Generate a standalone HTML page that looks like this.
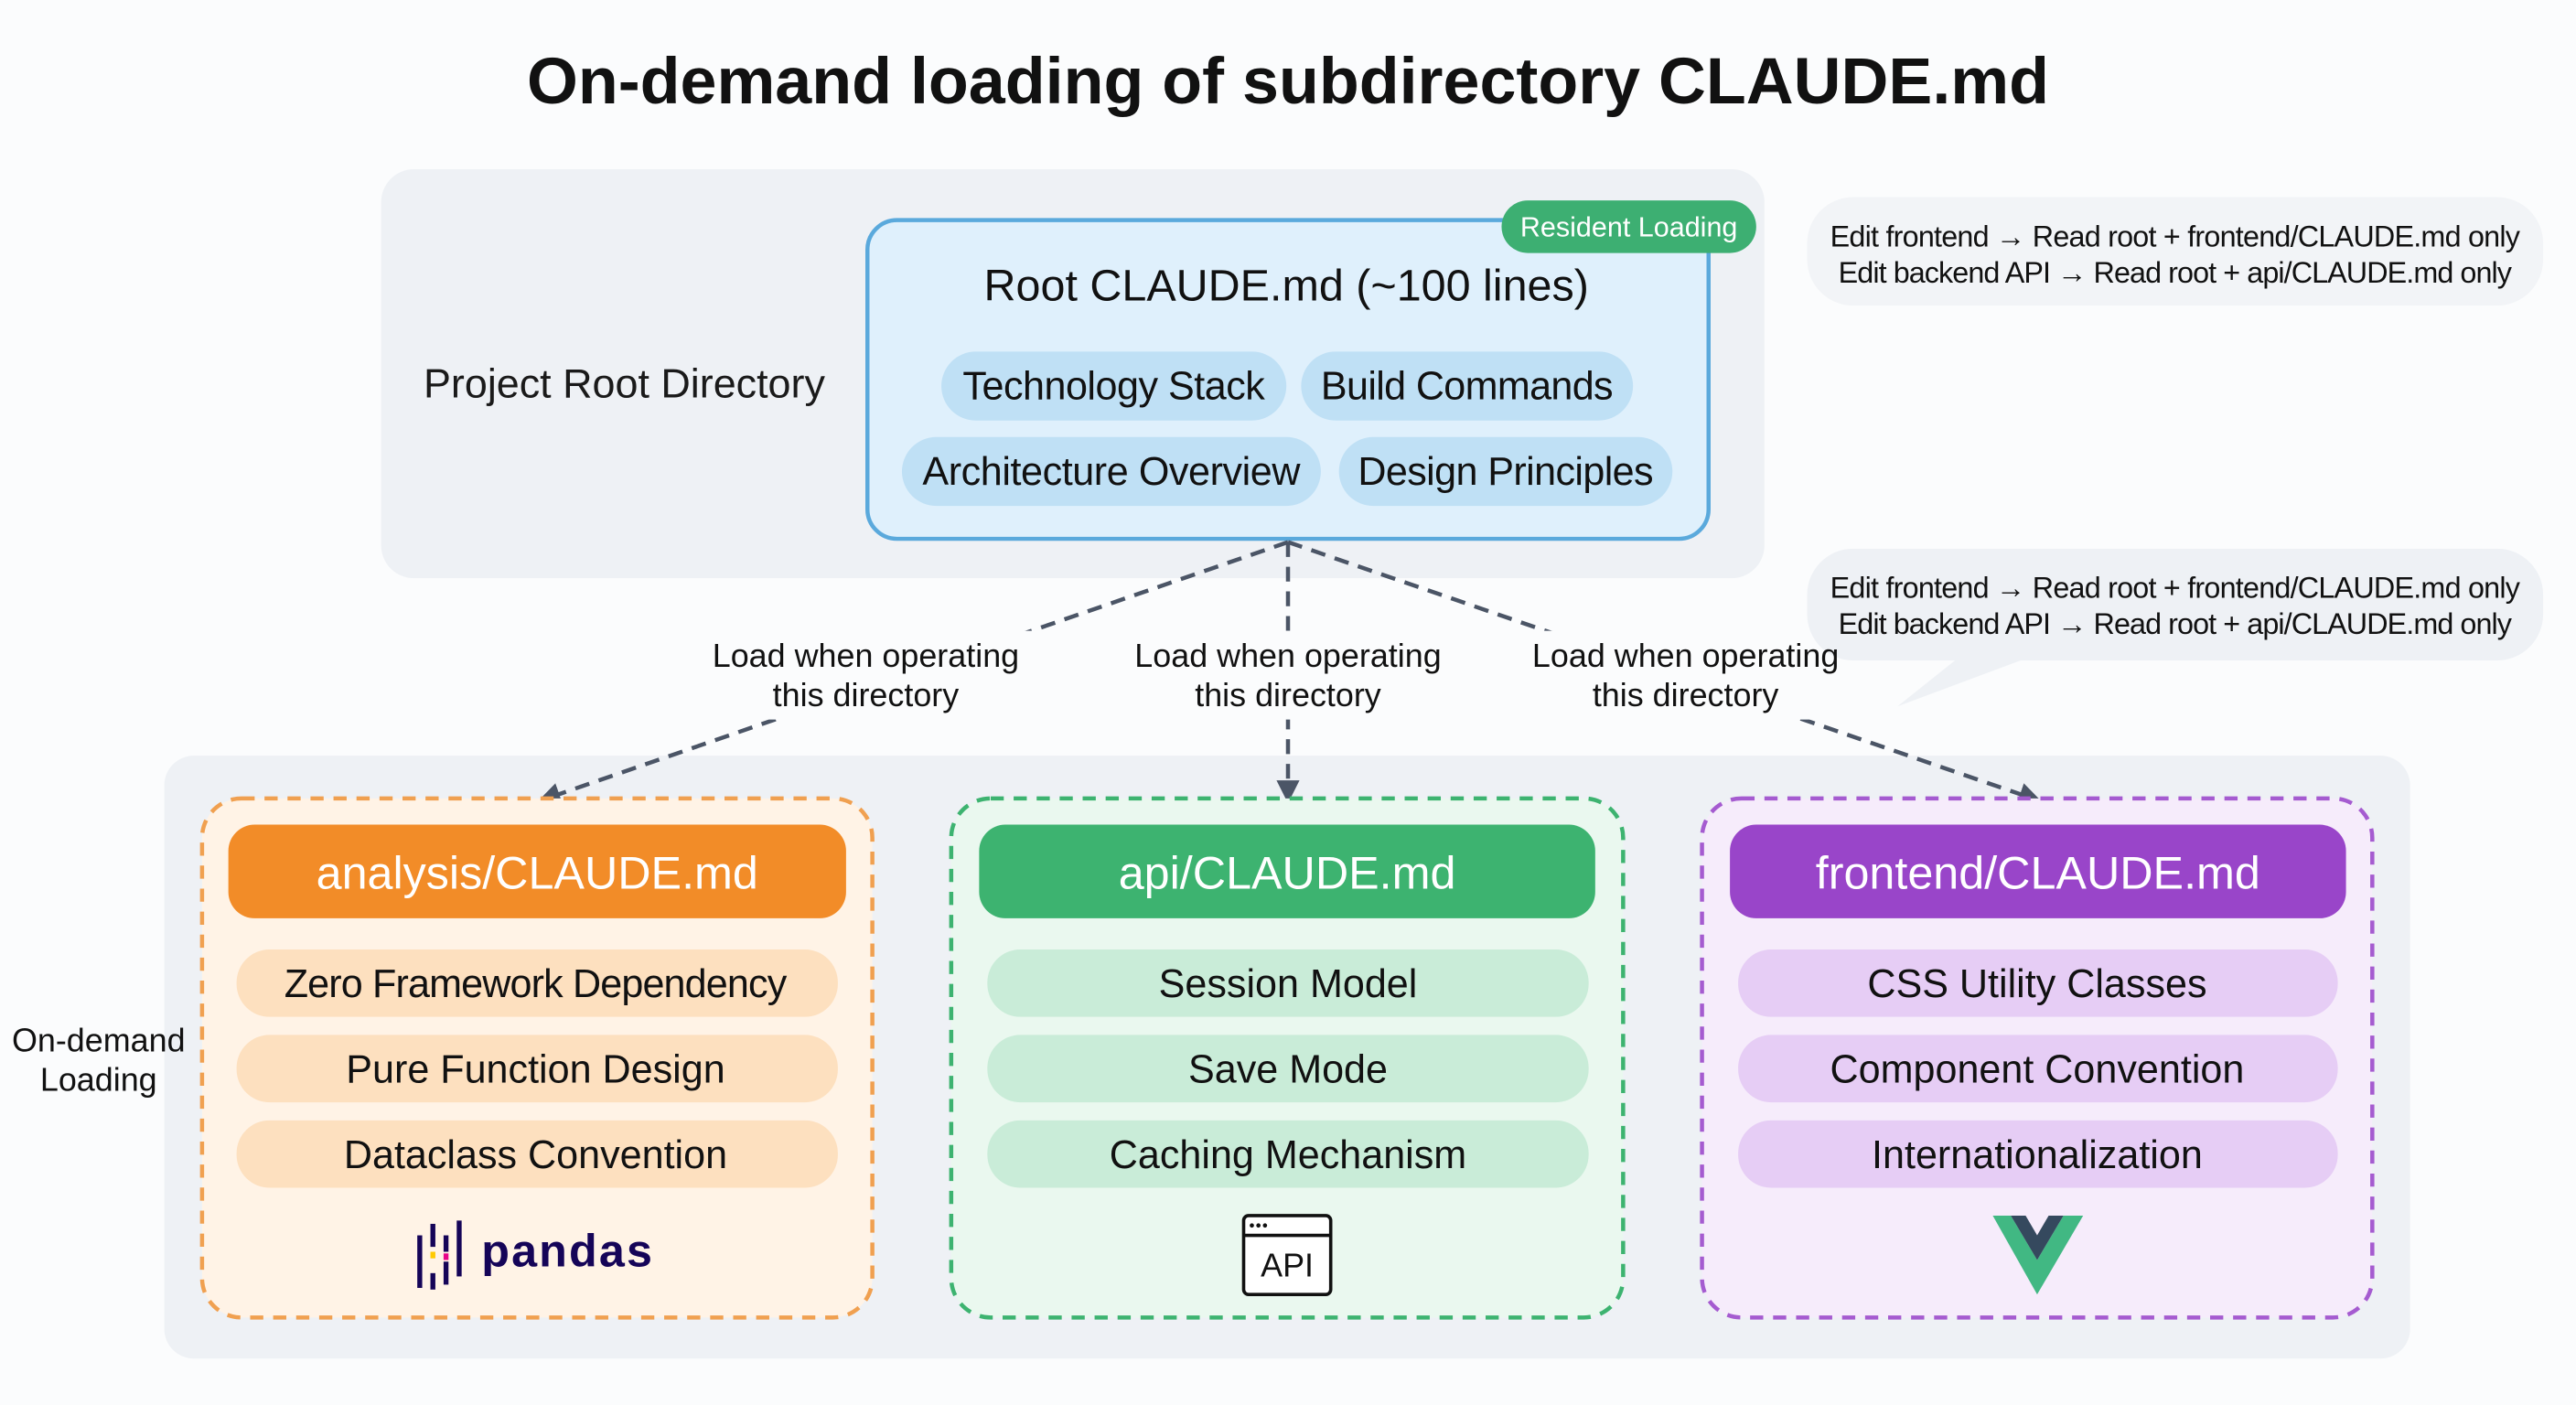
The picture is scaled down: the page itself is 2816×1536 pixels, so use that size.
<!DOCTYPE html>
<html><head><meta charset="utf-8"><style>
html,body{margin:0;padding:0;background:#fbfcfd;}
svg{display:block;}
text{font-family:"Liberation Sans",sans-serif;}
</style></head><body>
<svg width="2816" height="1536" viewBox="0 0 1568 855.27" xmlns="http://www.w3.org/2000/svg">
<defs>
<marker id="ah" markerWidth="14" markerHeight="14" refX="11" refY="7" orient="auto" markerUnits="userSpaceOnUse" viewBox="0 0 14 14">
<path d="M0,0 L14,7 L0,14 z" fill="#4b5566"/></marker>
</defs>
<rect width="1568" height="856" fill="#fbfcfd"/>
<text x="784" y="63" text-anchor="middle" font-size="40" font-weight="bold" fill="#111">On-demand loading of subdirectory CLAUDE.md</text>

<!-- top panel -->
<rect x="232" y="103" width="842" height="249" rx="20" fill="#eef1f5"/>
<text x="380" y="242" text-anchor="middle" font-size="25" fill="#1a1a1a">Project Root Directory</text>
<rect x="528" y="134" width="512" height="194" rx="18" fill="#dff0fc" stroke="#5aa9dc" stroke-width="2.5"/>
<rect x="914" y="122" width="155" height="32" rx="16" fill="#3daf72"/>
<text x="991.5" y="144" text-anchor="middle" font-size="17" fill="#fff">Resident Loading</text>
<text x="783" y="183" text-anchor="middle" font-size="27" fill="#111">Root CLAUDE.md (~100 lines)</text>
<rect x="573" y="214" width="210" height="42" rx="21" fill="#bfe0f5"/>
<text x="678" y="243" text-anchor="middle" font-size="24" fill="#111" textLength="184">Technology Stack</text>
<rect x="792" y="214" width="202" height="42" rx="21" fill="#bfe0f5"/>
<text x="893" y="243" text-anchor="middle" font-size="24" fill="#111" textLength="178">Build Commands</text>
<rect x="549" y="266" width="255" height="42" rx="21" fill="#bfe0f5"/>
<text x="676.5" y="295" text-anchor="middle" font-size="24" fill="#111" textLength="230">Architecture Overview</text>
<rect x="815" y="266" width="203" height="42" rx="21" fill="#bfe0f5"/>
<text x="916.5" y="295" text-anchor="middle" font-size="24" fill="#111" textLength="180">Design Principles</text>

<!-- bottom panel -->
<rect x="100" y="460" width="1367" height="367" rx="18" fill="#eef1f5"/>
<text x="60" y="640" text-anchor="middle" font-size="20" fill="#111">On-demand</text>
<text x="60" y="664" text-anchor="middle" font-size="20" fill="#111">Loading</text>

<!-- arrows -->
<g stroke="#4b5566" stroke-width="2.5" stroke-dasharray="9,6" fill="none">
<line x1="784" y1="330" x2="330" y2="487" marker-end="url(#ah)"/>
<line x1="784" y1="330" x2="784" y2="486" marker-end="url(#ah)"/>
<line x1="784" y1="330" x2="1240" y2="487" marker-end="url(#ah)"/>
</g>
<rect x="425" y="384" width="204" height="54" fill="#fbfcfd"/>
<rect x="682" y="384" width="204" height="54" fill="#fbfcfd"/>
<rect x="924" y="384" width="204" height="54" fill="#fbfcfd"/>

<!-- callouts -->
<rect x="1100" y="120" width="448" height="66" rx="28" fill="#f2f4f7"/>
<text x="1324" y="150" text-anchor="middle" font-size="18" fill="#111" textLength="420">Edit frontend → Read root + frontend/CLAUDE.md only</text>
<text x="1324" y="172" text-anchor="middle" font-size="18" fill="#111" textLength="410">Edit backend API → Read root + api/CLAUDE.md only</text>
<path d="M1128,334 H1520 a28,28 0 0 1 28,28 V374 a28,28 0 0 1 -28,28 H1230 L1155,430 L1190,402 H1128 a28,28 0 0 1 -28,-28 V362 a28,28 0 0 1 28,-28 z" fill="#eef1f5"/>
<text x="1324" y="364" text-anchor="middle" font-size="18" fill="#111" textLength="420">Edit frontend → Read root + frontend/CLAUDE.md only</text>
<text x="1324" y="386" text-anchor="middle" font-size="18" fill="#111" textLength="410">Edit backend API → Read root + api/CLAUDE.md only</text>

<g font-size="20" fill="#111" text-anchor="middle">
<text x="527" y="406">Load when operating</text><text x="527" y="430">this directory</text>
<text x="784" y="406">Load when operating</text><text x="784" y="430">this directory</text>
<text x="1026" y="406">Load when operating</text><text x="1026" y="430">this directory</text>
</g>

<!-- orange -->
<rect x="123" y="486" width="408" height="316" rx="24" fill="#fff3e6" stroke="#f0a050" stroke-width="2.5" stroke-dasharray="8,6"/>
<rect x="139" y="502" width="376" height="57" rx="16" fill="#f28c28"/>
<text x="327" y="541" text-anchor="middle" font-size="28" fill="#fff">analysis/CLAUDE.md</text>
<rect x="144" y="578" width="366" height="41" rx="20" fill="#fde0bf"/>
<rect x="144" y="630" width="366" height="41" rx="20" fill="#fde0bf"/>
<rect x="144" y="682" width="366" height="41" rx="20" fill="#fde0bf"/>
<g font-size="24" fill="#111" text-anchor="middle">
<text x="326" y="607" textLength="306">Zero Framework Dependency</text>
<text x="326" y="659">Pure Function Design</text>
<text x="326" y="711">Dataclass Convention</text>
</g>
<g fill="#150458">
<rect x="254" y="752" width="3" height="32"/><rect x="262" y="745" width="3" height="14"/><rect x="262" y="775" width="3" height="10"/>
<rect x="270" y="752" width="3" height="10"/><rect x="270" y="768" width="3" height="14"/><rect x="278" y="743" width="3" height="34"/>
</g>
<rect x="262" y="762" width="3" height="4" fill="#ffca00"/><rect x="270" y="763" width="3" height="4" fill="#e70488"/>
<text x="293" y="771" font-size="28" font-weight="bold" fill="#150458" textLength="104">pandas</text>

<!-- green -->
<rect x="579" y="486" width="409" height="316" rx="24" fill="#eaf8ef" stroke="#3db370" stroke-width="2.5" stroke-dasharray="8,6"/>
<rect x="596" y="502" width="375" height="57" rx="16" fill="#3db370"/>
<text x="783.5" y="541" text-anchor="middle" font-size="28" fill="#fff">api/CLAUDE.md</text>
<rect x="601" y="578" width="366" height="41" rx="20" fill="#c9ecd8"/>
<rect x="601" y="630" width="366" height="41" rx="20" fill="#c9ecd8"/>
<rect x="601" y="682" width="366" height="41" rx="20" fill="#c9ecd8"/>
<g font-size="24" fill="#111" text-anchor="middle">
<text x="784" y="607">Session Model</text>
<text x="784" y="659">Save Mode</text>
<text x="784" y="711">Caching Mechanism</text>
</g>
<rect x="757" y="740" width="53" height="48" rx="3" fill="#fff" stroke="#111" stroke-width="2"/>
<line x1="757" y1="752" x2="810" y2="752" stroke="#111" stroke-width="2"/>
<circle cx="762" cy="746" r="1.3" fill="#111"/><circle cx="766" cy="746" r="1.3" fill="#111"/><circle cx="770" cy="746" r="1.3" fill="#111"/>
<text x="783.5" y="777" text-anchor="middle" font-size="20" fill="#111">API</text>

<!-- purple -->
<rect x="1036" y="486" width="408" height="316" rx="24" fill="#f6ecfb" stroke="#a55bd0" stroke-width="2.5" stroke-dasharray="8,6"/>
<rect x="1053" y="502" width="375" height="57" rx="16" fill="#9945c9"/>
<text x="1240.5" y="541" text-anchor="middle" font-size="28" fill="#fff">frontend/CLAUDE.md</text>
<rect x="1058" y="578" width="365" height="41" rx="20" fill="#e6cdf5"/>
<rect x="1058" y="630" width="365" height="41" rx="20" fill="#e6cdf5"/>
<rect x="1058" y="682" width="365" height="41" rx="20" fill="#e6cdf5"/>
<g font-size="24" fill="#111" text-anchor="middle">
<text x="1240" y="607">CSS Utility Classes</text>
<text x="1240" y="659">Component Convention</text>
<text x="1240" y="711">Internationalization</text>
</g>
<polygon points="1213,740 1224,740 1240,767 1256,740 1268,740 1240,788" fill="#41b883"/>
<polygon points="1224,740 1233,740 1240,752 1247,740 1256,740 1240,767" fill="#35495e"/>
</svg>
</body></html>
